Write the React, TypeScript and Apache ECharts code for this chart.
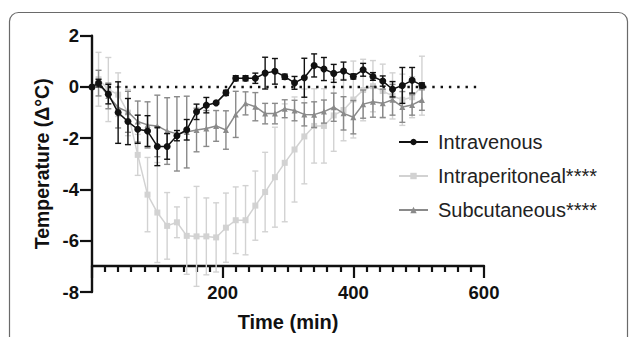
import React, { useEffect, useRef } from "react";
import * as echarts from "echarts";

const times = [0, 10, 25, 40, 55, 70, 85, 100, 115, 130, 145, 160, 175, 190, 205, 220, 235, 250, 265, 280, 295, 310, 325, 340, 355, 370, 385, 400, 415, 430, 445, 460, 475, 490, 505];

const ivMean = [0, 0.15, -0.28, -1.0, -1.35, -1.65, -1.72, -2.32, -2.32, -1.9, -1.67, -0.97, -0.71, -0.62, -0.23, 0.34, 0.34, 0.34, 0.54, 0.61, 0.4, 0.16, 0.36, 0.84, 0.7, 0.53, 0.62, 0.41, 0.67, 0.41, 0.23, -0.09, 0.06, 0.26, 0.06];
const ivSD = [0, 0.15, 0.38, 1.2, 0.9, 0.55, 0.6, 0.75, 0.5, 0.2, 0.4, 0.3, 0.3, 0.05, 0.1, 0.1, 0.1, 0.2, 0.62, 0.5, 0.1, 0.25, 0.76, 0.45, 0.45, 0.35, 0.35, 0.1, 0.25, 0.15, 0.2, 0.3, 0.7, 0.5, 0.1];

const ipMean = [0, 0.3, -0.1, -0.3, -1.0, -2.65, -4.2, -4.9, -5.42, -5.28, -5.81, -5.83, -5.83, -5.87, -5.49, -5.2, -5.2, -4.63, -4.1, -3.52, -2.96, -2.44, -1.93, -1.52, -1.52, -1.11, -0.9, -0.49, -0.12, 0.03, -0.16, -0.35, -0.5, -0.4, 0.05];
const ipSD = [0, 1.05, 1.25, 0.85, 0.9, 0.8, 1.45, 1.95, 1.3, 0.6, 1.5, 1.95, 1.5, 1.35, 1.35, 1.3, 1.35, 1.35, 1.55, 1.95, 2.3, 2.05, 1.85, 1.45, 1.45, 1.4, 1.2, 1.5, 1.2, 1.0, 1.05, 0.9, 1.0, 0.8, 1.15];

const scMean = [0, 0.15, -0.35, -0.8, -0.97, -1.35, -1.48, -1.52, -1.72, -1.83, -1.76, -1.68, -1.62, -1.52, -1.68, -1.07, -0.64, -0.77, -1.04, -1.04, -0.85, -0.92, -1.07, -1.08, -0.96, -0.79, -1.03, -1.18, -0.67, -0.58, -0.64, -0.5, -0.78, -0.7, -0.51];
const scSD = [0, 0.5, 0.5, 0.8, 0.8, 0.8, 0.9, 1.2, 1.3, 1.45, 1.4, 0.85, 0.7, 0.6, 0.75, 0.9, 0.45, 0.55, 0.4, 0.4, 0.35, 0.4, 0.45, 0.5, 0.45, 0.55, 0.65, 0.65, 0.55, 0.6, 0.55, 0.6, 0.6, 0.4, 0.4];

const seriesNames = ["Intravenous", "Intraperitoneal****", "Subcutaneous****"];
const xTicks = [0, 200, 400, 600];
const yTicks = [-8, -6, -4, -2, 0, 2];

const FONT = "'Liberation Sans', Arial, sans-serif";

function errData(mean: number[], sd: number[]) {
  return times.map((t, i) => [t, mean[i] - sd[i], mean[i] + sd[i]]);
}

function errSeries(mean: number[], sd: number[], color: string, z: number) {
  return {
    type: "custom",
    z,
    silent: true,
    data: errData(mean, sd),
    renderItem: (params: any, api: any) => {
      const x = api.value(0);
      const lo = api.value(1);
      const hi = api.value(2);
      if (hi - lo < 0.02) return { type: "group", children: [] };
      const a = api.coord([x, hi]);
      const b = api.coord([x, lo]);
      const hw = 3;
      const st = { stroke: color, lineWidth: 1.4, fill: "none" };
      return {
        type: "group",
        children: [
          { type: "line", shape: { x1: a[0], y1: a[1], x2: b[0], y2: b[1] }, style: st },
          { type: "line", shape: { x1: a[0] - hw, y1: a[1], x2: a[0] + hw, y2: a[1] }, style: st },
          { type: "line", shape: { x1: b[0] - hw, y1: b[1], x2: b[0] + hw, y2: b[1] }, style: st },
        ],
      };
    },
  };
}

function lineSeries(name: string, mean: number[], color: string, symbol: string, size: number, z: number) {
  return {
    type: "line",
    name,
    z,
    data: times.map((t, i) => [t, mean[i]]),
    symbol,
    symbolSize: size,
    showAllSymbol: true,
    lineStyle: { color, width: 1.5 },
    itemStyle: { color },
  };
}

export default function App() {
  const ref = useRef<HTMLDivElement>(null);
  useEffect(() => {
    document.body.style.margin = "0";
    const chart = echarts.init(ref.current!, null, { renderer: "svg" });
    const cIV = "#111111";
    const cIP = "#d2d2d2";
    const cSC = "#8a8a8a";
    chart.setOption({
      animation: false,
      backgroundColor: "#ffffff",
      textStyle: { fontFamily: FONT },
      graphic: [
        {
          type: "rect",
          shape: { x: 9.5, y: 12.5, width: 618, height: 400, r: 9 },
          style: { fill: "none", stroke: "#6a6a6a", lineWidth: 1.2 },
          silent: true,
        },
      ],
      grid: { left: 92, right: 145, top: 35.7, bottom: 41 },
      legend: {
        orient: "vertical",
        left: 393,
        top: 127,
        itemWidth: 29,
        itemHeight: 8,
        itemGap: 14,
        data: seriesNames,
        textStyle: { fontSize: 20, color: "#222222", fontFamily: FONT, padding: [0, 0, 0, 5] },
      },
      xAxis: {
        type: "value",
        min: xTicks[0],
        max: xTicks[xTicks.length - 1],
        interval: 200,
        offset: -26,
        name: "Time (min)",
        nameLocation: "middle",
        nameGap: 46,
        nameTextStyle: { fontSize: 20, fontWeight: "bold", color: "#111", fontFamily: FONT },
        axisLine: { show: true, onZero: false, lineStyle: { color: "#111", width: 2.4 } },
        axisTick: { show: true, length: 12, lineStyle: { color: "#111", width: 2.2 } },
        minorTick: { show: true, splitNumber: 10, length: 6, lineStyle: { color: "#111", width: 2.2 } },
        axisLabel: {
          margin: 17,
          fontSize: 18.5,
          fontWeight: "bold",
          color: "#111",
          fontFamily: FONT,
          formatter: (v: number) => (v === 0 ? "" : String(v)),
        },
        splitLine: { show: false },
      },
      yAxis: {
        type: "value",
        min: yTicks[0],
        max: yTicks[yTicks.length - 1],
        interval: 2,
        name: "Temperature (\u0394\u00b0C)",
        nameLocation: "middle",
        nameGap: 33,
        nameRotate: 90,
        nameTextStyle: { fontSize: 19.5, fontWeight: "bold", color: "#111", fontFamily: FONT },
        axisLine: { show: true, onZero: false, lineStyle: { color: "#111", width: 2.4 } },
        axisTick: { show: true, length: 12, lineStyle: { color: "#111", width: 2.2 } },
        axisLabel: { margin: 13, fontSize: 18.5, fontWeight: "bold", color: "#111", fontFamily: FONT },
        splitLine: { show: false },
      },
      series: [
        errSeries(ipMean, ipSD, cIP, 1),
        lineSeries(seriesNames[1], ipMean, cIP, "rect", 6, 2),
        errSeries(scMean, scSD, cSC, 3),
        lineSeries(seriesNames[2], scMean, cSC, "triangle", 6, 4),
        errSeries(ivMean, ivSD, cIV, 5),
        {
          ...lineSeries(seriesNames[0], ivMean, cIV, "circle", 7, 6),
          markLine: {
            silent: true,
            symbol: ["none", "none"],
            label: { show: false },
            lineStyle: { color: "#111", width: 2.4, type: [2.4, 5.9] },
            data: [[{ coord: [0, 0] }, { coord: [588, 0] }]],
          },
        },
      ],
    });
    return () => chart.dispose();
  }, []);
  return <div ref={ref} style={{ position: "fixed", left: 0, top: 0, width: 629, height: 337 }} />;
}
